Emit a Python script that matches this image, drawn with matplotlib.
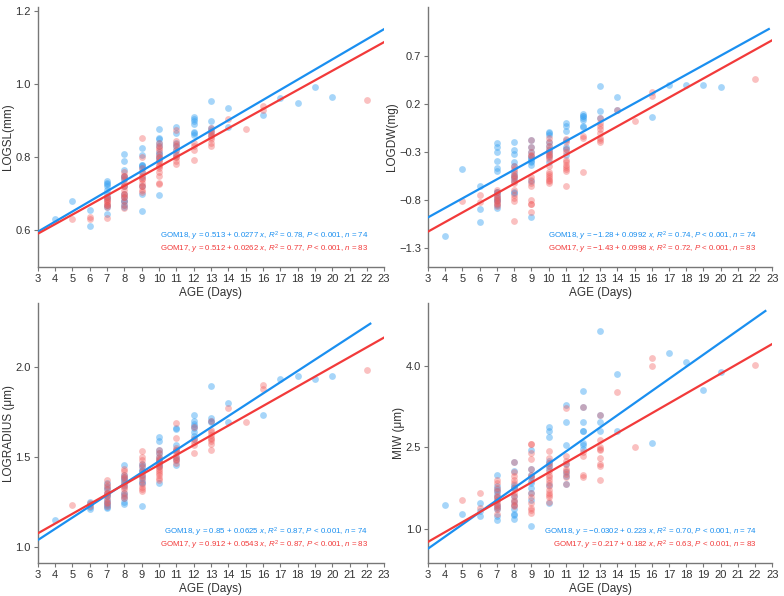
import numpy as np
import matplotlib.pyplot as plt

plt.rcParams['font.family'] = ['Liberation Sans', 'DejaVu Sans']
plt.rcParams['mathtext.fontset'] = 'custom'
plt.rcParams['mathtext.rm'] = 'Liberation Sans'
plt.rcParams['mathtext.it'] = 'Liberation Sans:italic'

# ---- LOGSL(mm) ----
sl18_x = [4, 5, 6, 6] + [7]*11 + [8]*13 + [9]*11 + [10]*10 + [11]*6 + [12]*7 + [13]*5 + [14]*2 + [16, 17, 18, 19, 20]
sl18_y = [0.63, 0.68, 0.655, 0.612,
          0.735, 0.728, 0.72, 0.71, 0.70, 0.685, 0.67, 0.665, 0.645, 0.73, 0.69,
          0.808, 0.79, 0.765, 0.745, 0.74, 0.72, 0.70, 0.69, 0.68, 0.67, 0.665, 0.75, 0.68,
          0.825, 0.805, 0.78, 0.775, 0.77, 0.745, 0.72, 0.70, 0.652, 0.78, 0.76,
          0.877, 0.853, 0.85, 0.83, 0.815, 0.80, 0.795, 0.697, 0.84, 0.81,
          0.882, 0.865, 0.84, 0.82, 0.805, 0.83,
          0.91, 0.905, 0.89, 0.87, 0.865, 0.86, 0.90,
          0.953, 0.90, 0.875, 0.86, 0.88,
          0.935, 0.882,
          0.915, 0.962, 0.948, 0.993, 0.965]
sl17_x = [5, 6, 6] + [7]*10 + [8]*15 + [9]*12 + [10]*16 + [11]*10 + [12]*4 + [13]*8 + [14, 15, 16, 16, 22]
sl17_y = [0.632, 0.637, 0.632,
          0.69, 0.685, 0.68, 0.675, 0.67, 0.665, 0.635, 0.68, 0.69, 0.67,
          0.76, 0.75, 0.74, 0.73, 0.72, 0.71, 0.70, 0.69, 0.68, 0.67, 0.66, 0.75, 0.72, 0.70, 0.69,
          0.853, 0.80, 0.76, 0.75, 0.74, 0.73, 0.72, 0.71, 0.705, 0.77, 0.74, 0.72,
          0.84, 0.825, 0.82, 0.81, 0.80, 0.79, 0.78, 0.775, 0.76, 0.748, 0.73, 0.728, 0.83, 0.80, 0.79, 0.77,
          0.875, 0.845, 0.835, 0.82, 0.81, 0.80, 0.79, 0.782, 0.83, 0.80,
          0.84, 0.82, 0.792, 0.83,
          0.88, 0.87, 0.86, 0.85, 0.84, 0.83, 0.87, 0.855,
          0.905, 0.877, 0.94, 0.93, 0.955]

# ---- LOGDW(mg) ----
dw18_x = [4, 5, 6, 6, 6] + [7]*14 + [8]*11 + [9]*11 + [10]*9 + [11]*7 + [12]*7 + [13]*3 + [14]*2 + [16, 17, 18, 19, 20]
dw18_y = [-1.18, -0.475, -0.66, -0.89, -1.03,
          -0.21, -0.25, -0.30, -0.39, -0.47, -0.50, -0.72, -0.75, -0.78, -0.81, -0.85, -0.88, -0.72, -0.80,
          -0.20, -0.28, -0.32, -0.40, -0.45, -0.52, -0.57, -0.73, -0.55, -0.60, -0.72,
          -0.18, -0.25, -0.34, -0.37, -0.40, -0.44, -0.60, -0.98, -0.36, -0.39, -0.30,
          -0.09, -0.12, -0.24, -0.30, -0.34, -0.40, -0.10, -0.20, -0.28,
          -0.03, -0.08, -0.18, -0.27, -0.33, 0.0, -0.25,
          0.10, 0.07, 0.03, -0.04, 0.08, 0.05, -0.03,
          0.39, 0.13, 0.05,
          0.27, 0.14,
          0.06, 0.40, 0.40, 0.40, 0.38]
dw17_x = [5, 6, 6] + [7]*10 + [8]*13 + [9]*13 + [10]*17 + [11]*11 + [12]*3 + [13]*8 + [14, 15, 16, 16, 22]
dw17_y = [-0.81, -0.75, -0.82,
          -0.75, -0.78, -0.81, -0.84, -0.72, -0.70, -0.77, -0.80, -0.83, -0.86,
          -0.45, -0.48, -0.54, -0.57, -0.75, -0.81, -1.02, -0.60, -0.50, -0.55, -0.62, -0.70, -0.78,
          -0.18, -0.30, -0.34, -0.59, -0.62, -0.80, -0.84, -0.93, -0.25, -0.33, -0.56, -0.65, -0.84,
          -0.15, -0.24, -0.30, -0.33, -0.37, -0.51, -0.55, -0.59, -0.62, -0.20, -0.27, -0.32, -0.35, -0.45, -0.53, -0.57, -0.60,
          -0.16, -0.27, -0.40, -0.44, -0.48, -0.65, -0.20, -0.30, -0.38, -0.46, -0.50,
          -0.13, -0.51, -0.15,
          0.05, -0.06, -0.15, -0.20, 0.0, -0.03, -0.10, -0.18,
          0.14, 0.02, 0.33, 0.28, 0.46]

# ---- LOGRADIUS (um) ----
rad18_x = [4] + [6]*4 + [7]*12 + [8]*12 + [9]*9 + [10]*10 + [11]*7 + [12]*8 + [13]*4 + [14]*2 + [16, 17, 18, 19, 20]
rad18_y = [1.15,
           1.25, 1.22, 1.21, 1.24,
           1.355, 1.33, 1.30, 1.28, 1.25, 1.235, 1.215, 1.32, 1.29, 1.26, 1.24, 1.22,
           1.455, 1.39, 1.375, 1.355, 1.30, 1.27, 1.25, 1.40, 1.37, 1.34, 1.29, 1.24,
           1.46, 1.425, 1.40, 1.355, 1.225, 1.45, 1.42, 1.38, 1.36,
           1.61, 1.585, 1.54, 1.50, 1.46, 1.355, 1.52, 1.48, 1.47, 1.45,
           1.655, 1.565, 1.48, 1.455, 1.66, 1.54, 1.50,
           1.73, 1.70, 1.67, 1.635, 1.615, 1.68, 1.66, 1.60,
           1.89, 1.715, 1.69, 1.70,
           1.80, 1.69,
           1.73, 1.93, 1.95, 1.93, 1.95]
rad17_x = [5, 6, 6] + [7]*11 + [8]*12 + [9]*13 + [10]*15 + [11]*10 + [12]*5 + [13]*9 + [14, 15, 16, 16, 22]
rad17_y = [1.23, 1.245, 1.225,
           1.37, 1.34, 1.30, 1.265, 1.245, 1.225, 1.35, 1.32, 1.28, 1.25, 1.30,
           1.43, 1.40, 1.38, 1.345, 1.32, 1.28, 1.42, 1.39, 1.36, 1.33, 1.30, 1.27,
           1.53, 1.50, 1.445, 1.42, 1.39, 1.37, 1.32, 1.31, 1.48, 1.46, 1.40, 1.35, 1.33,
           1.54, 1.50, 1.48, 1.465, 1.445, 1.43, 1.41, 1.38, 1.52, 1.49, 1.47, 1.45, 1.42, 1.40, 1.37,
           1.685, 1.605, 1.54, 1.52, 1.49, 1.465, 1.55, 1.50, 1.48, 1.53,
           1.665, 1.565, 1.52, 1.60, 1.58,
           1.70, 1.635, 1.605, 1.585, 1.54, 1.62, 1.60, 1.57, 1.65,
           1.77, 1.69, 1.90, 1.875, 1.98]

# ---- MIW (um) ----
miw18_x = [4, 5, 6, 6, 6] + [7]*12 + [8]*12 + [9]*10 + [10]*9 + [11]*7 + [12]*8 + [13]*4 + [14]*2 + [16, 17, 18, 19, 20]
miw18_y = [1.45, 1.27, 1.47, 1.33, 1.23,
           1.99, 1.79, 1.73, 1.64, 1.54, 1.45, 1.36, 1.23, 1.17, 1.70, 1.58, 1.40,
           2.23, 2.07, 1.80, 1.76, 1.51, 1.36, 1.27, 1.18, 1.78, 1.60, 1.45, 1.25,
           2.45, 2.11, 1.99, 1.85, 1.67, 1.53, 1.06, 1.95, 1.88, 1.75,
           2.87, 2.81, 2.70, 2.22, 2.10, 1.47, 2.25, 2.15, 1.80,
           3.28, 2.97, 2.54, 1.98, 1.82, 2.05, 2.20,
           3.54, 3.25, 2.97, 2.81, 2.59, 2.47, 2.81, 2.55,
           4.64, 2.97, 2.81, 3.10,
           3.85, 2.81,
           2.59, 4.23, 4.07, 3.56, 3.89]
miw17_x = [5, 6, 6] + [7]*12 + [8]*12 + [9]*13 + [10]*15 + [11]*9 + [12]*5 + [13]*9 + [14, 15, 16, 16, 22]
miw17_y = [1.53, 1.67, 1.38,
           1.91, 1.76, 1.61, 1.53, 1.45, 1.36, 1.27, 1.85, 1.70, 1.58, 1.48, 1.40,
           2.23, 1.98, 1.91, 1.67, 1.54, 1.42, 1.61, 2.05, 1.85, 1.75, 1.50, 1.45,
           2.57, 2.28, 2.10, 1.95, 1.67, 1.48, 1.39, 1.30, 2.57, 2.40, 2.00, 1.58, 1.35,
           2.43, 2.22, 2.07, 1.95, 1.85, 1.79, 1.67, 1.58, 1.50, 2.30, 2.15, 2.00, 1.90, 1.72, 1.62,
           3.22, 2.34, 2.25, 2.07, 2.01, 1.82, 2.20, 2.10, 1.95,
           3.24, 2.41, 1.95, 2.00, 2.35,
           3.10, 2.64, 2.47, 2.31, 2.16, 1.91, 2.45, 2.20, 2.50,
           3.52, 2.50, 4.15, 4.00, 4.02]

# fitted lines: (intercept, slope, x end)
fit18 = [(0.513, 0.0277, 23), (-1.28, 0.0992, 22.8), (0.85, 0.0625, 22.2), (-0.0302, 0.223, 22.6)]
fit17 = [(0.512, 0.0262, 23), (-1.43, 0.0998, 23), (0.912, 0.0543, 23), (0.217, 0.182, 23)]
r2_18 = ['0.78', '0.74', '0.87', '0.70']
r2_17 = ['0.77', '0.72', '0.87', '0.63']
ylabels = ['LOGSL(mm)', 'LOGDW(mg)', 'LOGRADIUS (\u03bcm)', 'MIW (\u03bcm)']
yticks = [[0.6, 0.8, 1.0, 1.2], [-1.3, -0.8, -0.3, 0.2, 0.7], [1.0, 1.5, 2.0], [1.0, 2.5, 4.0]]
ylims = [(0.5, 1.21), (-1.5, 1.21), (0.91, 2.35), (0.37, 5.15)]

data18 = [(sl18_x, sl18_y), (dw18_x, dw18_y), (rad18_x, rad18_y), (miw18_x, miw18_y)]
data17 = [(sl17_x, sl17_y), (dw17_x, dw17_y), (rad17_x, rad17_y), (miw17_x, miw17_y)]

blue_line, blue_pt = '#1A8FF0', '#3AA3F2'
red_line, red_pt = '#F23A3A', '#F25A5A'


def fmt(v):
    return ('%g' % v).replace('-', '\u2212')


def eq(name, a, b, r2, n):
    return (name + ', $y$ = ' + fmt(a) + ' + ' + fmt(b) + ' $x$, $R^2$ = ' + r2 +
            ', $P$ < 0.001, $n$ = ' + str(n))


fig = plt.figure(figsize=(7.84, 5.96), dpi=100)
boxes = [[0.048, 0.552, 0.442, 0.436], [0.546, 0.552, 0.439, 0.436],
         [0.048, 0.055, 0.442, 0.436], [0.546, 0.055, 0.439, 0.436]]

for i in range(4):
    ax = fig.add_axes(boxes[i])
    x18, y18 = data18[i]
    x17, y17 = data17[i]
    ax.scatter(x18, y18, s=24, color=blue_pt, alpha=0.45, linewidths=0, zorder=2)
    ax.scatter(x17, y17, s=24, color=red_pt, alpha=0.38, linewidths=0, zorder=2)

    a, b, xe = fit18[i]
    xx = np.array([3, xe])
    ax.plot(xx, a + b * xx, color=blue_line, lw=1.6, zorder=3)
    a2, b2, xe2 = fit17[i]
    xx2 = np.array([3, xe2])
    ax.plot(xx2, a2 + b2 * xx2, color=red_line, lw=1.6, zorder=3)

    ax.text(0.955, 0.118, eq('GOM18', a, b, r2_18[i], len(x18)), color=blue_line,
            fontsize=5.7, ha='right', va='center', transform=ax.transAxes)
    ax.text(0.955, 0.068, eq('GOM17', a2, b2, r2_17[i], len(x17)), color=red_line,
            fontsize=5.7, ha='right', va='center', transform=ax.transAxes)

    ax.set_xlim(3, 23)
    ax.set_xticks(range(3, 24))
    ax.set_ylim(*ylims[i])
    ax.set_yticks(yticks[i])
    ax.set_yticklabels(['%.1f' % t if t >= 0 else '\u2212%.1f' % -t for t in yticks[i]])
    ax.set_xlabel('AGE (Days)', fontsize=8.5, color='#333333', labelpad=2)
    ax.set_ylabel(ylabels[i], fontsize=8.5, color='#333333', labelpad=0.5)
    for sp in ['top', 'right']:
        ax.spines[sp].set_visible(False)
    for sp in ['left', 'bottom']:
        ax.spines[sp].set_color('#777777')
        ax.spines[sp].set_linewidth(1.0)
    ax.tick_params(labelsize=8, colors='#333333', length=3, width=0.8, pad=2)
    ax.tick_params(color='#777777')

fig.savefig('out.png', dpi=100)
